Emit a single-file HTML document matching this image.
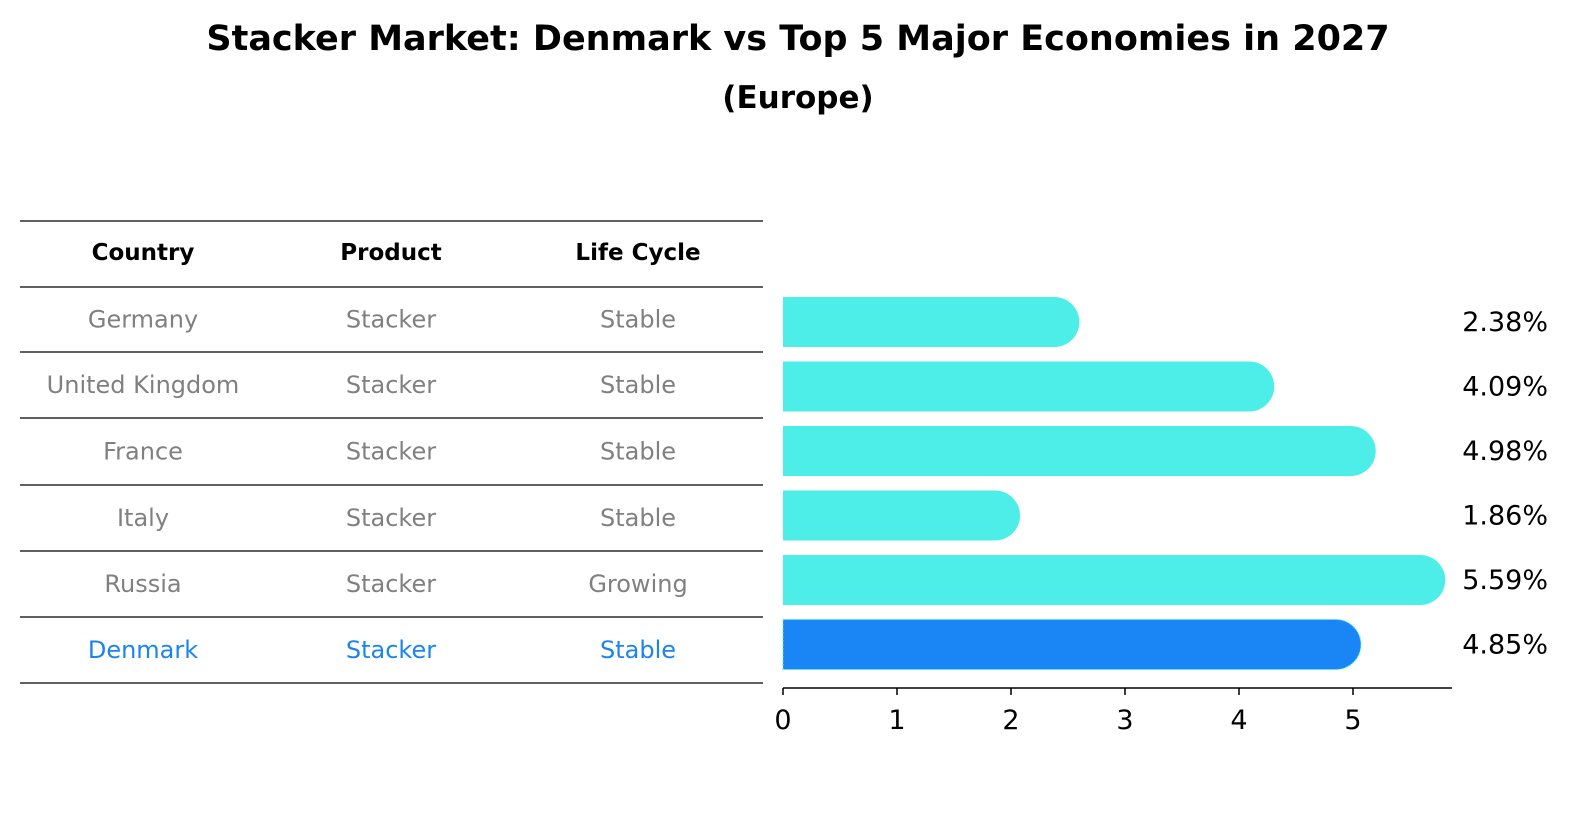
<!DOCTYPE html>
<html><head><meta charset="utf-8"><style>
html,body{margin:0;padding:0;overflow:hidden}
body{background:#fff;width:1586px;height:823px;font-family:"DejaVu Sans","Liberation Sans",sans-serif}
svg{display:block}
</style></head><body>
<svg width="1586" height="823" xmlns="http://www.w3.org/2000/svg" font-family="DejaVu Sans, Liberation Sans, sans-serif">
<text x="798" y="50" text-anchor="middle" font-size="35" font-weight="bold">Stacker Market: Denmark vs Top 5 Major Economies in 2027</text>
<text x="798" y="108" text-anchor="middle" font-size="31" font-weight="bold">(Europe)</text>
<g id="table"></g>
<g id="bars"></g>
</svg>
<script>
const countries=["Germany","United Kingdom","France","Italy","Russia","Denmark"];
const products=["Stacker","Stacker","Stacker","Stacker","Stacker","Stacker"];
const lifecycles=["Stable","Stable","Stable","Stable","Growing","Stable"];
const values=[2.38,4.09,4.98,1.86,5.59,4.85];
const ticks=[0,1,2,3,4,5];
const NS="http://www.w3.org/2000/svg";
function mk(tag,attrs,parent,text){const e=document.createElementNS(NS,tag);for(const k in attrs)e.setAttribute(k,attrs[k]);if(text!==undefined)e.textContent=text;parent.appendChild(e);return e;}
const tbl=document.getElementById('table');
const lineYs=[221,287,352,418,485,551,617,683];
lineYs.forEach((y,i)=>{const l=mk('line',{x1:20,x2:763,y1:y,y2:y,stroke:'#000','stroke-width':1.2},tbl);

});
const colX=[143,391,638];
["Country","Product","Life Cycle"].forEach((h,i)=>{const t=mk('text',{x:colX[i],y:260,'text-anchor':'middle','font-size':23,'font-weight':'bold'},tbl,h);

});
countries.forEach((c,r)=>{const y=(lineYs[r+1]+lineYs[r+2])/2+8;const col=c==="Denmark"?'#1a85f0':'#808080';
[c,products[r],lifecycles[r]].forEach((v,i)=>{const t=mk('text',{x:colX[i],y:y,'text-anchor':'middle','font-size':24,fill:col},tbl,v);

});});
const bars=document.getElementById('bars');
const x0=783,ppu=114;
const xs=v=>x0+v*ppu;
const rowY=r=>322+r*64.5;
const h=50,rad=25;
values.forEach((v,r)=>{const yc=rowY(r);const xe=xs(v);const col=countries[r]==="Denmark"?'#1a85f5':'#4deee8';
const p=mk('path',{d:`M${x0},${yc-h/2} L${xe},${yc-h/2} A${rad},${rad} 0 0 1 ${xe},${yc+h/2} L${x0},${yc+h/2} Z`,fill:col},bars);
if(countries[r]==="Denmark"){p.setAttribute('stroke','#4deee8');p.setAttribute('stroke-dasharray','2,2');p.setAttribute('stroke-width','1');}


const t=mk('text',{x:1548,y:yc+9,'text-anchor':'end','font-size':27},bars,v.toFixed(2)+'%');

});
const ax=mk('line',{x1:x0,x2:1452,y1:688,y2:688,stroke:'#000','stroke-width':1.5},bars);


ticks.forEach(tv=>{const x=xs(tv);const tl=mk('line',{x1:x,x2:x,y1:688,y2:695,stroke:'#000','stroke-width':1.5},bars);


const t=mk('text',{x:x,y:729,'text-anchor':'middle','font-size':27},bars,String(tv));

});
</script>
</body></html>
